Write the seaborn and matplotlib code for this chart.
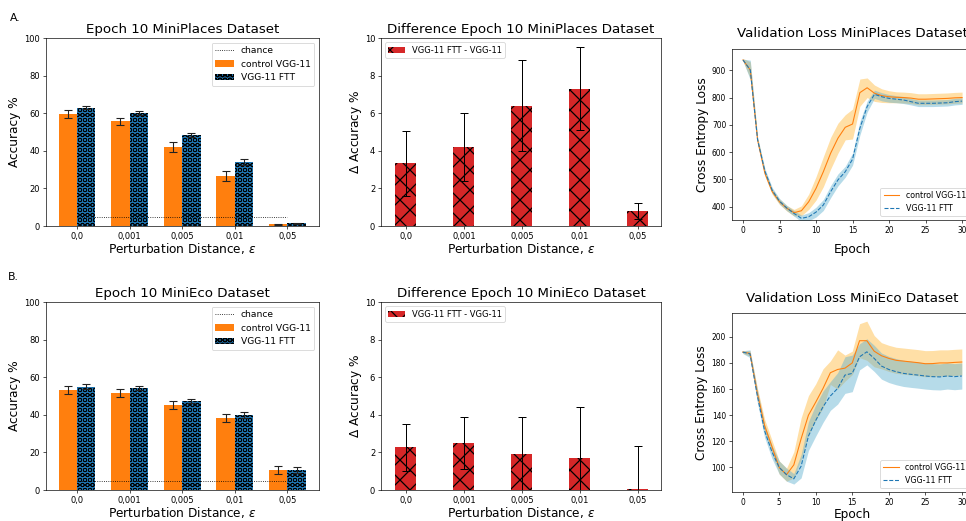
import numpy as np
import pandas as pd
import matplotlib
matplotlib.use('Agg')
import matplotlib.pyplot as plt
import matplotlib.patches as mpatches
from matplotlib.lines import Line2D
import seaborn as sns

plt.rcParams['hatch.color'] = 'black'
plt.rcParams['hatch.linewidth'] = 1.5

# Perturbation distances (tick labels) and model names
eps_labels = ['0,0', '0,001', '0,005', '0,01', '0,05']
models = ['control VGG-11', 'VGG-11 FTT']

# Row A - MiniPlaces, accuracy at epoch 10
places_ctrl = [59.5, 55.7, 42.0, 26.5, 1.0]
places_ctrl_err = [2.0, 2.0, 2.5, 2.5, 0.3]
places_ftt = [63.0, 60.0, 48.3, 34.0, 1.5]
places_ftt_err = [0.6, 1.0, 1.0, 1.5, 0.3]
places_diff = [3.33, 4.19, 6.41, 7.31, 0.8]
places_diff_err = [1.75, 1.8, 2.4, 2.2, 0.44]

# Row B - MiniEco, accuracy at epoch 10
eco_ctrl = [53.1, 51.7, 45.1, 38.2, 10.6]
eco_ctrl_err = [2.0, 2.0, 2.0, 2.0, 2.0]
eco_ftt = [55.0, 54.2, 47.3, 39.8, 10.6]
eco_ftt_err = [1.5, 1.2, 1.2, 1.5, 1.5]
eco_diff = [2.27, 2.5, 1.91, 1.7, 0.03]
eco_diff_err = [1.24, 1.4, 2.0, 2.7, 2.3]

chance = 5

# Validation loss curves, epochs 0..30
epochs = list(range(31))
places_loss_ctrl = [938, 901, 644, 522, 455, 418, 394, 378, 385, 418, 467, 528, 596, 651, 691, 703,
                    818, 836, 816, 807, 803, 801, 800, 798, 794, 794, 795, 796, 797, 799, 800]
places_loss_ctrl_sd = [5, 30, 10, 10, 10, 10, 10, 12, 18, 28, 43, 55, 58, 55, 46, 55,
                       50, 36, 30, 25, 22, 20, 20, 20, 20, 20, 20, 20, 20, 20, 20]
places_loss_ftt = [938, 901, 645, 530, 460, 420, 395, 375, 357, 363, 380, 406, 455, 498, 528, 574,
                   687, 767, 812, 803, 797, 794, 791, 785, 779, 779, 779, 780, 781, 785, 787]
places_loss_ftt_sd = [3, 36, 10, 10, 10, 10, 10, 10, 12, 15, 18, 20, 22, 22, 20, 22,
                      25, 20, 15, 15, 14, 13, 13, 12, 12, 12, 12, 12, 12, 12, 12]

eco_loss_ctrl = [188.3, 187.3, 157, 132, 116, 100, 94.5, 102, 122, 140, 150, 160.5, 172.5, 175, 176, 180,
                 197, 197, 189, 185.5, 183.5, 182, 181.4, 180.8, 180.2, 179.4, 179.5, 180, 180, 180.4, 180.7]
eco_loss_ctrl_sd = [1, 2, 4, 5, 5, 5, 5, 10, 16, 15, 14, 15, 9, 15, 10, 9,
                    13, 15, 12, 10, 10, 10, 10, 10, 10, 10, 10, 10, 10, 10, 10]
eco_loss_ftt = [188.3, 187, 155, 128, 112, 100, 94.5, 91.3, 101, 124, 136, 146.5, 154.7, 160.5, 170.7, 172,
                184.7, 188.5, 183.5, 177.6, 175, 173.3, 172, 171.3, 170.7, 170, 169.5, 169.3, 170, 169.5, 170]
eco_loss_ftt_sd = [1, 3, 5, 5, 5, 5, 5, 4, 9, 11, 12, 12, 11, 12, 14, 14,
                   10, 10, 10, 10, 10, 10, 10, 10, 10, 10, 10, 10, 10, 10, 10]


def set_hatch(patch, hatch, lw):
    patch.set_hatch(hatch)
    # thinner lines for the circle hatch (only possible on newer matplotlib)
    if hasattr(patch, 'set_hatch_linewidth'):
        patch.set_hatch_linewidth(lw)


def acc_bars(ax, ctrl, ctrl_err, ftt, ftt_err, title):
    df = pd.DataFrame({'eps': eps_labels * 2, 'acc': ctrl + ftt,
                       'model': [models[0]] * 5 + [models[1]] * 5})
    sns.barplot(data=df, x='eps', y='acc', hue='model', palette=['tab:orange', 'tab:blue'],
                saturation=1, width=0.7, errorbar=None, linewidth=0, edgecolor='black',
                legend=False, ax=ax)
    for cont, err in zip(ax.containers, [ctrl_err, ftt_err]):
        xs = [p.get_x() + p.get_width() / 2 for p in cont]
        hs = [p.get_height() for p in cont]
        ax.errorbar(xs, hs, yerr=err, fmt='none', ecolor='#222222', elinewidth=1.3,
                    capsize=5, capthick=1.3)
    for p in ax.containers[1]:
        set_hatch(p, 'OO', 0.9)
    ax.hlines(chance, 0, 4, colors='black', linestyles=':', lw=1, zorder=4)
    ax.set_xlim(-0.59, 4.6)
    ax.set_ylim(0, 100)
    ax.set_title(title, fontsize=16)
    ax.set_xlabel('Perturbation Distance, $\\varepsilon$', fontsize=14.5, labelpad=0)
    ax.set_ylabel('Accuracy %', fontsize=14.5)
    ax.tick_params(labelsize=10)
    ftt_patch = mpatches.Patch(facecolor='tab:blue', edgecolor='black', lw=0, label=models[1])
    set_hatch(ftt_patch, 'OO', 0.9)
    handles = [Line2D([], [], color='black', ls=':', lw=1, label='chance'),
               mpatches.Patch(facecolor='tab:orange', label=models[0]),
               ftt_patch]
    ax.legend(handles=handles, loc='upper right', fontsize=11)


def diff_bars(ax, diff, err, title):
    sns.barplot(x=eps_labels, y=diff, color='tab:red', saturation=1, width=0.36,
                errorbar=None, linewidth=0, edgecolor='black', ax=ax)
    for p in ax.patches:
        set_hatch(p, 'x', 1.5)
    xs = [p.get_x() + p.get_width() / 2 for p in ax.patches]
    hs = [p.get_height() for p in ax.patches]
    ax.errorbar(xs, hs, yerr=err, fmt='none', ecolor='black', elinewidth=1.2,
                capsize=5, capthick=1.2)
    ax.set_xlim(-0.43, 4.4)
    ax.set_ylim(0, 10)
    ax.set_title(title, fontsize=16)
    ax.set_xlabel('Perturbation Distance, $\\varepsilon$', fontsize=14.5, labelpad=0)
    ax.set_ylabel('$\\Delta$ Accuracy %', fontsize=14.5, labelpad=1)
    ax.tick_params(labelsize=10)
    h = mpatches.Patch(facecolor='tab:red', edgecolor='black', lw=0, hatch='x',
                       label='VGG-11 FTT - VGG-11')
    ax.legend(handles=[h], loc='upper left', fontsize=10)


def loss_lines(ax, ctrl, ctrl_sd, ftt, ftt_sd, title, ylim, yticks, xpad):
    c, cs = np.array(ctrl), np.array(ctrl_sd)
    f, fs = np.array(ftt), np.array(ftt_sd)
    ax.fill_between(epochs, c - cs, c + cs, color='orange', alpha=0.35, lw=0)
    ax.fill_between(epochs, f - fs, f + fs, color='#5fb0cf', alpha=0.45, lw=0)
    sns.lineplot(x=epochs, y=ctrl, color='tab:orange', lw=1.3, label=models[0], ax=ax)
    sns.lineplot(x=epochs, y=ftt, color='tab:blue', lw=1.3, linestyle='--', label=models[1], ax=ax)
    ax.set_xlim(-1.5, 31.5)
    ax.set_ylim(*ylim)
    ax.set_xticks(range(0, 31, 5))
    ax.set_yticks(yticks)
    ax.set_title(title, fontsize=16, pad=14)
    ax.set_xlabel('Epoch', fontsize=14.5, labelpad=xpad)
    ax.set_ylabel('Cross Entropy Loss', fontsize=14.5)
    ax.tick_params(labelsize=9)
    ax.legend(loc='lower right', fontsize=9.5)


fig = plt.figure(figsize=(966 / 60, 521 / 60), dpi=60)

ax_a1 = fig.add_axes([0.0476, 0.5662, 0.2826, 0.3608])
ax_a2 = fig.add_axes([0.3944, 0.5662, 0.2899, 0.3608])
ax_a3 = fig.add_axes([0.7578, 0.5777, 0.2495, 0.3282])
ax_b1 = fig.add_axes([0.0476, 0.0595, 0.2826, 0.3608])
ax_b2 = fig.add_axes([0.3944, 0.0595, 0.2899, 0.3608])
ax_b3 = fig.add_axes([0.7575, 0.0551, 0.2495, 0.3436])

acc_bars(ax_a1, places_ctrl, places_ctrl_err, places_ftt, places_ftt_err, 'Epoch 10 MiniPlaces Dataset')
diff_bars(ax_a2, places_diff, places_diff_err, 'Difference Epoch 10 MiniPlaces Dataset')
loss_lines(ax_a3, places_loss_ctrl, places_loss_ctrl_sd, places_loss_ftt, places_loss_ftt_sd,
           'Validation Loss MiniPlaces Dataset', (351, 978), range(400, 901, 100), 10)

acc_bars(ax_b1, eco_ctrl, eco_ctrl_err, eco_ftt, eco_ftt_err, 'Epoch 10 MiniEco Dataset')
diff_bars(ax_b2, eco_diff, eco_diff_err, 'Difference Epoch 10 MiniEco Dataset')
loss_lines(ax_b3, eco_loss_ctrl, eco_loss_ctrl_sd, eco_loss_ftt, eco_loss_ftt_sd,
           'Validation Loss MiniEco Dataset', (81, 218), range(100, 201, 20), 1)

fig.text(0.010, 0.975, 'A.', fontsize=13, va='top')
fig.text(0.008, 0.478, 'B.', fontsize=13, va='top')

fig.savefig('out.png', dpi=60)
